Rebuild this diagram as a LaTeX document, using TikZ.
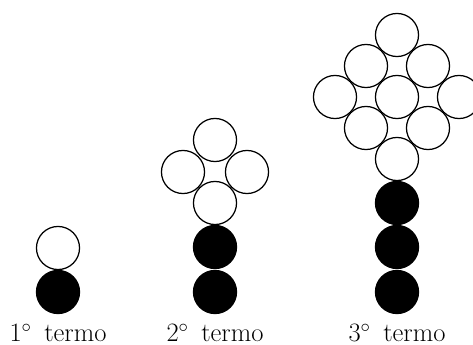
\documentclass[tikz,border=0pt]{standalone}
\begin{document}
\begin{tikzpicture}[x=0.02252cm, y=-0.02252cm,
		ball/.style={circle, draw, line width=0.8pt, minimum size=0.97cm, inner sep=0pt},
		blackBall/.style={ball, fill=black},
		whiteBall/.style={ball, fill=white},
		label/.style={font=\fontsize{17}{20}\selectfont, inner sep=0pt}]
		\useasboundingbox (0,0) rectangle (473,345);

		% 1o termo
		\node[blackBall] (oneBlackA) at (58,292) {};
		\node[whiteBall] (oneWhiteA) at (58,248) {};

		% 2o termo
		\node[blackBall] (twoBlackA) at (215,292) {};
		\node[blackBall] (twoBlackB) at (215,247) {};
		\node[whiteBall] (twoWhiteA) at (215,203) {};
		\node[whiteBall] (twoWhiteB) at (183,172) {};
		\node[whiteBall] (twoWhiteC) at (247,172) {};
		\node[whiteBall] (twoWhiteD) at (215,140) {};

		% 3o termo
		\node[blackBall] (threeBlackA) at (397,292) {};
		\node[blackBall] (threeBlackB) at (397,247) {};
		\node[blackBall] (threeBlackC) at (397,203) {};
		\node[whiteBall] (threeWhiteA) at (397,159) {};
		\node[whiteBall] (threeWhiteB) at (366,128) {};
		\node[whiteBall] (threeWhiteC) at (428,128) {};
		\node[whiteBall] (threeWhiteD) at (335,97) {};
		\node[whiteBall] (threeWhiteE) at (397,97) {};
		\node[whiteBall] (threeWhiteF) at (459,97) {};
		\node[whiteBall] (threeWhiteG) at (366,66) {};
		\node[whiteBall] (threeWhiteH) at (428,66) {};
		\node[whiteBall] (threeWhiteI) at (397,35) {};

		\node[label] (oneLabel) at (58,333) {1$^\circ$\, termo};
		\node[label] (twoLabel) at (215,333) {2$^\circ$\, termo};
		\node[label] (threeLabel) at (397,333) {3$^\circ$\, termo};
	\end{tikzpicture}
\end{document}
